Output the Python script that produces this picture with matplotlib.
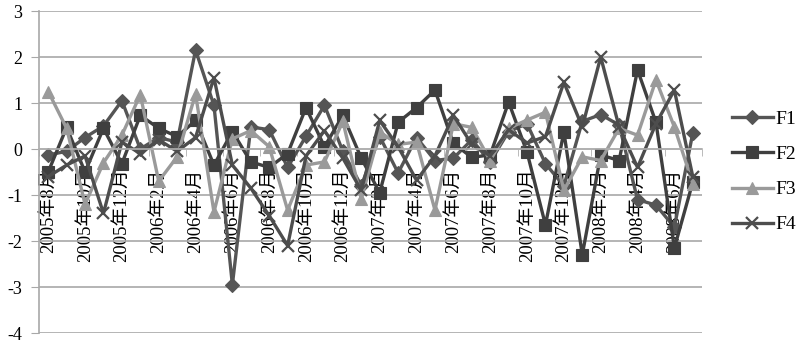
import matplotlib
matplotlib.use("Agg")
import matplotlib.pyplot as plt
import numpy as np

# monthly categories, 2005-08 .. 2008-07
months = [f"{2005 + (7 + k) // 12}年{(7 + k) % 12 + 1}月" for k in range(36)]

F1 = [-0.13, -0.05, 0.25, 0.5, 1.05, 0.0, 0.25, 0.15, 2.15, 0.95,
      -2.95, 0.48, 0.42, -0.4, 0.28, 0.95, -0.05, -0.8, 0.27, -0.52,
      0.25, -0.25, -0.2, 0.2, -0.28, 0.38, 0.55, -0.32, -0.8, 0.6,
      0.75, 0.52, -1.1, -1.22, -1.7, 0.35]
F2 = [-0.5, 0.47, -0.5, 0.45, -0.32, 0.73, 0.45, 0.27, 0.62, -0.35,
      0.38, -0.28, -0.4, -0.1, 0.9, 0.05, 0.73, -0.2, -0.95, 0.58,
      0.9, 1.28, 0.12, -0.18, -0.13, 1.02, -0.07, -1.65, 0.37, -2.3,
      -0.13, -0.25, 1.72, 0.58, -2.15, -0.72]
F3 = [1.25, 0.45, -1.2, -0.3, 0.3, 1.18, -0.7, -0.17, 1.2, -1.37,
      0.22, 0.4, 0.05, -1.33, -0.35, -0.28, 0.6, -1.08, 0.37, 0.1,
      0.15, -1.33, 0.55, 0.47, -0.25, 0.45, 0.63, 0.8, -0.9, -0.17,
      -0.25, 0.45, 0.3, 1.5, 0.48, -0.75]
F4 = [-0.6, -0.35, -0.15, -1.4, 0.15, -0.1, 0.2, -0.05, 0.25, 1.55,
      -0.35, -0.85, -1.45, -2.1, -0.15, 0.4, -0.2, -0.9, 0.62, 0.05,
      -0.68, -0.15, 0.73, 0.1, -0.15, 0.42, 0.13, 0.27, 1.45, 0.48,
      2.0, 0.48, -0.4, 0.55, 1.28, -0.6]

series = [
    ("F1", F1, "#555555", "D", 7),
    ("F2", F2, "#3f3f3f", "s", 8.5),
    ("F3", F3, "#9a9a9a", "^", 9),
    ("F4", F4, "#4d4d4d", "x", 9),
]

fonts = ["Liberation Serif", "Noto Sans CJK JP"]

fig = plt.figure(figsize=(8.03, 3.44), dpi=100)
ax = fig.add_axes([39 / 803, 11 / 344, 663 / 803, 322 / 344])

x = np.arange(len(months))
for name, vals, color, mk, ms in series:
    ax.plot(x, vals, color=color, lw=2.4, marker=mk, ms=ms,
            mew=1.6 if mk == "x" else 0.8, mec=color, label=name)

ax.set_xlim(-0.5, len(months) - 0.5)
ax.set_ylim(-4, 3)
ax.set_yticks(range(-4, 4))
ax.set_yticklabels([str(v) for v in range(-4, 4)], fontfamily=fonts, fontsize=13)
ax.yaxis.grid(True, color="#a8a8a8", lw=1.2)
ax.set_axisbelow(True)
ax.tick_params(axis="y", length=6, color="#a8a8a8", pad=6)

for s in ["top", "right"]:
    ax.spines[s].set_visible(False)
ax.spines["left"].set_color("#a8a8a8")
ax.spines["left"].set_linewidth(1.2)
ax.spines["bottom"].set_position(("data", 0))
ax.spines["bottom"].set_color("#b0b0b0")
ax.spines["bottom"].set_linewidth(1.2)

ax.set_xticks(x[::2])
ax.set_xticklabels(months[::2], rotation=90, fontfamily=fonts, fontsize=13.5)
ax.set_xticks(np.arange(-0.5, len(months), 2), minor=True)
ax.tick_params(axis="x", which="major", length=0, pad=14)
ax.tick_params(axis="x", which="minor", length=5, color="#b0b0b0")

ax.legend(loc="center left", bbox_to_anchor=(724 / 803, 172 / 344),
          bbox_transform=fig.transFigure, frameon=False,
          prop={"family": fonts, "size": 14}, handlelength=2.1,
          labelspacing=0.9, handletextpad=0.15, borderaxespad=0)

fig.savefig("out.png", dpi=100)
